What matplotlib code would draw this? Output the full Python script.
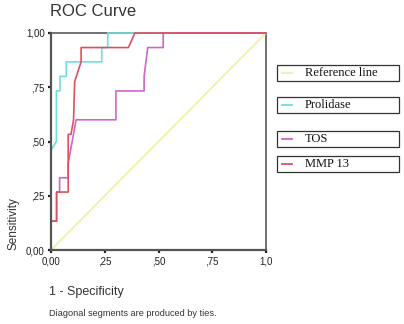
import matplotlib
matplotlib.use('Agg')
import matplotlib.pyplot as plt
from matplotlib.patches import Rectangle
from matplotlib.lines import Line2D

# ROC curve points (1 - specificity, sensitivity)
ref_x = [0.0, 1.0]
ref_y = [0.0, 1.0]

prolidase_x = [0.0, 0.0, 0.025, 0.025, 0.042, 0.042, 0.071, 0.071, 0.087, 0.236, 0.236, 0.264, 0.264, 1.0]
prolidase_y = [0.0, 0.46, 0.50, 0.733, 0.733, 0.80, 0.80, 0.867, 0.867, 0.867, 0.933, 0.933, 1.0, 1.0]

tos_x = [0.0, 0.0, 0.026, 0.026, 0.04, 0.04, 0.08, 0.08, 0.117, 0.302, 0.302, 0.433, 0.433, 0.45, 0.522, 0.522, 1.0]
tos_y = [0.0, 0.133, 0.133, 0.267, 0.267, 0.333, 0.333, 0.40, 0.60, 0.60, 0.733, 0.733, 0.80, 0.933, 0.933, 1.0, 1.0]

mmp13_x = [0.0, 0.0, 0.026, 0.026, 0.08, 0.08, 0.08, 0.093, 0.105, 0.11, 0.14, 0.14, 0.36, 0.39, 1.0]
mmp13_y = [0.0, 0.133, 0.133, 0.267, 0.267, 0.40, 0.533, 0.533, 0.60, 0.776, 0.867, 0.933, 0.933, 1.0, 1.0]

labels = ['Reference line', 'Prolidase', 'TOS', 'MMP 13']
colors = ['#f0f0a0', '#70dede', '#cc66cc', '#dd5060']

tick_vals = [0, 0.25, 0.5, 0.75, 1.0]
ytick_labels = ['0,00', ',25', ',50', ',75', '1,00']
xtick_labels = ['0,00', ',25', ',50', ',75', '1,0']

W, H = 404, 324
fig = plt.figure(figsize=(W / 100, H / 100), dpi=100)
ax = fig.add_axes([51 / W, 1 - 250 / H, 215 / W, 217 / H])

series = [(ref_x, ref_y), (prolidase_x, prolidase_y), (tos_x, tos_y), (mmp13_x, mmp13_y)]
for (xs, ys), c in zip(series, colors):
    ax.plot(xs, ys, color=c, linewidth=1.2, zorder=3, clip_on=False)

ax.set_xlim(0, 1)
ax.set_ylim(0, 1)
for side in ['left', 'bottom']:
    ax.spines[side].set_color('#555555')
    ax.spines[side].set_linewidth(1.6)
    ax.spines[side].set_zorder(4)
for side in ['top', 'right']:
    ax.spines[side].set_color('#666666')
    ax.spines[side].set_linewidth(1.3)
    ax.spines[side].set_zorder(1)

ax.set_xticks(tick_vals)
ax.set_xticklabels(xtick_labels)
ax.set_yticks(tick_vals)
ax.set_yticklabels(ytick_labels)
ax.tick_params(direction='out', length=2.5, width=1.6, color='#222222',
               labelsize=7, pad=2, labelcolor='#222222')
for lab in ax.get_xticklabels() + ax.get_yticklabels():
    lab.set_family('Liberation Sans')

fig.text(50 / W, 1 - 12 / H, 'ROC Curve', fontsize=12, family='Liberation Sans',
         color='#333333', va='center', ha='left')
fig.text(13 / W, 1 - 224 / H, 'Sensitivity', fontsize=8.5, family='Liberation Sans',
         color='#333333', rotation=90, va='center', ha='center')
fig.text(49 / W, 1 - 292 / H, '1 - Specificity', fontsize=9, family='Liberation Sans',
         color='#333333', va='center', ha='left')
fig.text(49 / W, 1 - 314 / H, 'Diagonal segments are produced by ties.', fontsize=6.6,
         family='Liberation Sans', color='#333333', va='center', ha='left')

# legend: four separate boxes
box_tops = [65, 97, 131, 156]
box_h = 15.5
for top, lab, c in zip(box_tops, labels, colors):
    fig.patches.append(Rectangle((277 / W, 1 - (top + box_h) / H), 122 / W, box_h / H,
                                 transform=fig.transFigure, fill=False,
                                 edgecolor='#333333', linewidth=0.9))
    yc = 1 - (top + box_h / 2) / H
    fig.lines.append(Line2D([282 / W, 292 / W], [yc, yc], transform=fig.transFigure,
                            color=c, linewidth=1.3))
    fig.text(305 / W, yc, lab, fontsize=9, family='Liberation Serif', color='#111111',
             va='center', ha='left')

plt.savefig('out.png', dpi=100)
plt.close()
